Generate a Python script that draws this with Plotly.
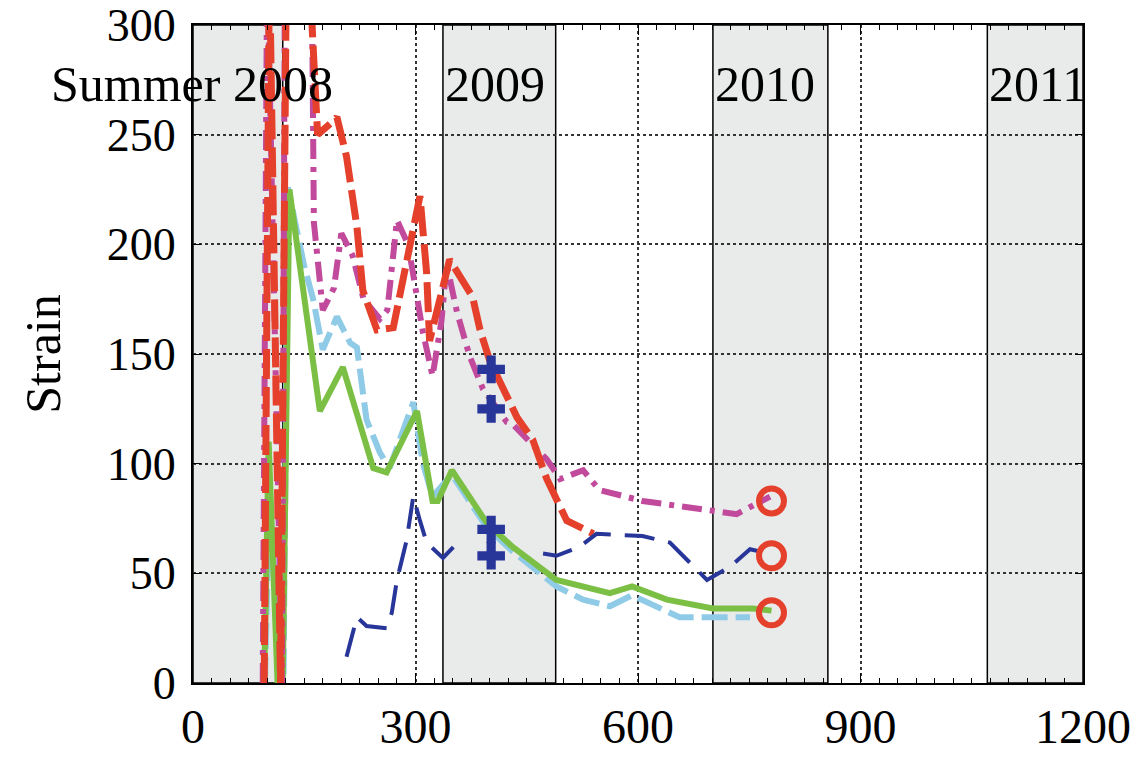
import plotly.graph_objects as go

# Winter periods (grey bands) and season labels
winter_start = [0, 337, 701, 1071]
winter_end = [121, 489, 856, 1200]
season_labels = ["Summer 2008", "2009", "2010", "2011"]
label_x = [191, 337, 701, 1071]
label_anchor = ["right", "left", "left", "left"]
label_y = 273

# Strain series (days, strain)
green_x = [96, 102, 114, 121, 130, 171, 202, 243, 261, 302, 323, 330, 349, 396, 431, 490, 562, 592, 639, 701, 755, 780]
green_y = [0, 110, 0, 0, 225, 124, 144, 98, 96, 124, 83, 83, 97, 73, 62, 47, 41, 44, 38, 34, 34, 33]

lightblue_x = [97, 103, 116, 122, 128, 150, 162, 175, 194, 212, 221, 234, 252, 265, 297, 310, 323, 349, 396, 431, 490, 526, 562, 592, 656, 701, 751]
lightblue_y = [0, 90, 0, 0, 226, 190, 175, 152, 167, 155, 153, 120, 105, 98, 128, 100, 85, 95, 71, 60, 44, 38, 35, 40, 30, 30, 30]

red_x = [96, 103, 118, 126, 156, 168, 185, 194, 207, 221, 229, 248, 270, 306, 315, 319, 346, 377, 387, 400, 437, 458, 477, 504, 540]
red_y = [0, 330, 0, 330, 330, 250, 255, 258, 240, 208, 179, 161, 162, 222, 187, 156, 193, 176, 161, 147, 121, 111, 93, 74, 68]

magenta_x = [94, 100, 120, 124, 160, 163, 175, 190, 200, 215, 230, 252, 262, 275, 290, 300, 310, 323, 335, 342, 356, 373, 391, 423, 431, 477, 495, 526, 548, 606, 701, 733, 778]
magenta_y = [0, 330, 0, 330, 330, 210, 170, 180, 205, 195, 175, 166, 170, 211, 200, 180, 160, 140, 165, 191, 169, 149, 134, 119, 118, 102, 93, 97, 88, 83, 78, 77, 85]

darkblue_x = [207, 221, 234, 261, 268, 275, 288, 297, 306, 315, 337, 351, None, 472, 490, 521, 544, 606, 643, 693, 724, 751, 778]
darkblue_y = [12, 30, 26, 25, 32, 47, 65, 85, 74, 64, 57, 62, None, 59, 58, 62, 68, 67, 64, 47, 53, 61, 59]

cross_x = [402, 402, 402, 402]
cross_y = [143, 125, 70, 58]
circle_x = [780, 780, 780]
circle_y = [83, 58, 32]

FONT = "Liberation Serif, Times New Roman, serif"

fig = go.Figure()

fig.add_trace(go.Scatter(x=lightblue_x, y=lightblue_y, mode="lines",
                         line=dict(color="#8fcbe6", width=6, dash="26px,8px")))
fig.add_trace(go.Scatter(x=green_x, y=green_y, mode="lines",
                         line=dict(color="#7cbf45", width=6)))
fig.add_trace(go.Scatter(x=magenta_x, y=magenta_y, mode="lines",
                         line=dict(color="#c24a9c", width=6, dash="20px,8px,5px,8px")))
fig.add_trace(go.Scatter(x=red_x, y=red_y, mode="lines",
                         line=dict(color="#e5402b", width=7, dash="30px,8px")))
fig.add_trace(go.Scatter(x=darkblue_x, y=darkblue_y, mode="lines",
                         line=dict(color="#28369a", width=4, dash="30px,14px")))
fig.add_trace(go.Scatter(x=cross_x, y=cross_y, mode="markers",
                         marker=dict(symbol="cross", size=23, color="#28369a")))
fig.add_trace(go.Scatter(x=circle_x, y=circle_y, mode="markers",
                         marker=dict(symbol="circle-open", size=25, color="#e5402b",
                                     line=dict(width=6, color="#e5402b"))))

for s, e in zip(winter_start, winter_end):
    fig.add_shape(type="rect", xref="x", yref="y", x0=s, x1=e, y0=0, y1=300,
                  fillcolor="#e9eaea", line=dict(color="black", width=1.5), layer="below")

for txt, x, anc in zip(season_labels, label_x, label_anchor):
    fig.add_annotation(x=x, y=label_y, text=txt, xanchor=anc, yanchor="middle",
                       showarrow=False, font=dict(family=FONT, size=50, color="black"))

# page body has an 8px margin, so the figure is a bit smaller than the window
fig.update_layout(
    width=1124, height=761,
    margin=dict(l=185, r=49, t=17, b=86),
    plot_bgcolor="white", paper_bgcolor="white",
    showlegend=False,
    font=dict(family=FONT, size=50, color="black"),
)
fig.update_xaxes(range=[0, 1200], tickvals=[0, 300, 600, 900, 1200], automargin=False,
                 ticklabeloverflow="allow",
                 showgrid=True, gridcolor="#333", griddash="dot", gridwidth=2,
                 showline=True, linecolor="black", linewidth=2, mirror="ticks",
                 ticks="inside", ticklen=10, tickcolor="black",
                 minor=dict(dtick=25, ticks="inside", ticklen=5, tickcolor="black", showgrid=False),
                 zeroline=False, tickfont=dict(family=FONT, size=48))
fig.update_yaxes(range=[0, 300], tickvals=[0, 50, 100, 150, 200, 250, 300], automargin=False,
                 ticklabeloverflow="allow", ticklabelstandoff=6,
                 showgrid=True, gridcolor="#333", griddash="dot", gridwidth=2,
                 showline=True, linecolor="black", linewidth=2, mirror="ticks",
                 ticks="inside", ticklen=8, tickcolor="black",
                 zeroline=False, tickfont=dict(family=FONT, size=46),
                 title=dict(text="Strain", font=dict(family=FONT, size=50), standoff=30))

fig.write_html("out.html")
